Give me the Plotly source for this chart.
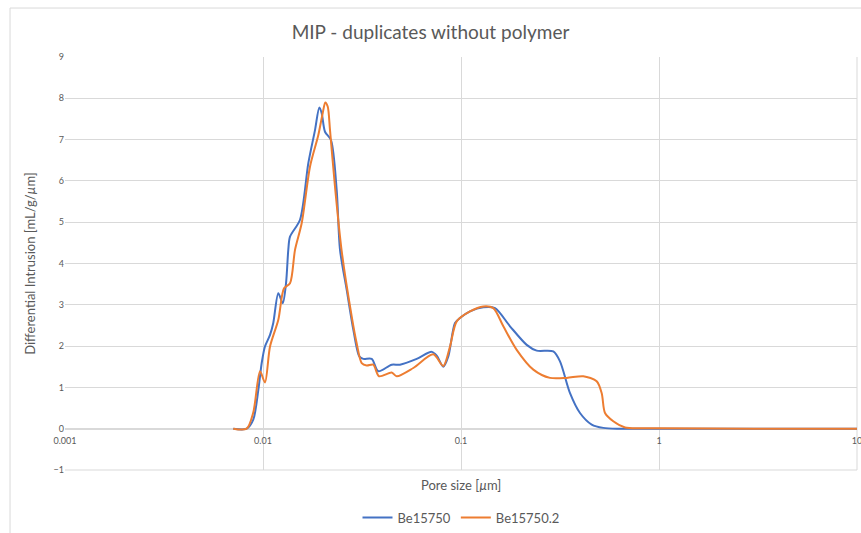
import plotly.graph_objects as go

# Pore size [µm] and differential intrusion [mL/g/µm]
blue_x = [0.00708, 0.00827, 0.00893, 0.00947, 0.00985, 0.01023, 0.01085, 0.01127, 0.01195, 0.01258,
          0.01307, 0.01342, 0.01369, 0.01538, 0.01694, 0.01831, 0.01925, 0.01979, 0.02056, 0.02204,
          0.02356, 0.02449, 0.02647, 0.02858, 0.03065, 0.03211, 0.03540, 0.03822, 0.04467, 0.04918,
          0.05974, 0.07112, 0.07541, 0.08140, 0.08628, 0.09326, 0.09883, 0.1110, 0.1296, 0.1485,
          0.1768, 0.2147, 0.2411, 0.2925, 0.3162, 0.3553, 0.3990, 0.4571, 0.5232, 0.635, 1.0, 3.0, 10.0]
blue_y = [0.0, 0.0, 0.22, 0.94, 1.59, 1.99, 2.27, 2.56, 3.28, 3.04,
          3.52, 4.33, 4.65, 5.06, 6.43, 7.23, 7.78, 7.64, 7.19, 6.99,
          5.78, 4.33, 3.36, 2.40, 1.75, 1.69, 1.69, 1.39, 1.55, 1.55,
          1.69, 1.86, 1.77, 1.50, 1.75, 2.56, 2.68, 2.84, 2.94, 2.92,
          2.48, 2.03, 1.89, 1.87, 1.63, 0.86, 0.38, 0.10, 0.02, 0.0, 0.0, 0.0, 0.0]

orange_x = [0.00708, 0.00827, 0.00893, 0.00966, 0.01023, 0.01085, 0.01195, 0.01277, 0.01369, 0.01451,
            0.01569, 0.01728, 0.01903, 0.02002, 0.02064, 0.02122, 0.02180, 0.02310, 0.02497, 0.02805,
            0.02972, 0.03151, 0.03339, 0.03607, 0.03854, 0.04467, 0.04734, 0.05742, 0.07245, 0.08140,
            0.08799, 0.09513, 0.1110, 0.1296, 0.1456, 0.1636, 0.1911, 0.2319, 0.2814, 0.3419,
            0.4147, 0.4845, 0.5137, 0.5338, 0.5877, 0.6735, 0.80, 1.0, 3.0, 10.0]
orange_y = [0.0, 0.0, 0.39, 1.39, 1.12, 1.99, 2.64, 3.40, 3.52, 4.33,
            4.98, 6.35, 7.11, 7.64, 7.90, 7.80, 7.23, 5.86, 4.30, 2.72,
            2.07, 1.59, 1.53, 1.55, 1.27, 1.36, 1.27, 1.47, 1.80, 1.52,
            1.99, 2.60, 2.84, 2.96, 2.92, 2.48, 1.91, 1.43, 1.23, 1.23,
            1.27, 1.15, 0.86, 0.38, 0.18, 0.03, 0.01, 0.01, 0.0, 0.0]

x_tickvals = [0.001, 0.01, 0.1, 1, 10]
x_ticktext = ["0.001", "0.01", "0.1", "1", "10"]
y_tickvals = [-1, 0, 1, 2, 3, 4, 5, 6, 7, 8, 9]

FONT = "Lato, Liberation Sans, sans-serif"
GREY = "#595959"
GRID = "#d9d9d9"

fig = go.Figure()
fig.add_trace(go.Scatter(x=blue_x, y=blue_y, mode="lines", name="Be15750",
                         line=dict(color="#4472C4", width=2, shape="spline", smoothing=0.8)))
fig.add_trace(go.Scatter(x=orange_x, y=orange_y, mode="lines", name="Be15750.2",
                         line=dict(color="#ED7D31", width=2, shape="spline", smoothing=0.8)))

fig.update_layout(
    width=861, height=533,
    margin=dict(l=65, r=4, t=57, b=63, autoexpand=False),
    paper_bgcolor="white", plot_bgcolor="white",
    font=dict(family=FONT, color=GREY, size=10),
    title=dict(text="MIP - duplicates without polymer", x=0.5, xanchor="center",
               y=0.94, yanchor="middle", font=dict(size=19, color=GREY, family=FONT)),
    legend=dict(orientation="h", x=0.5, xanchor="center", y=-0.115, yanchor="middle",
                font=dict(size=13, color=GREY, family=FONT), traceorder="normal"),
    showlegend=True,
)
fig.update_xaxes(type="log", range=[-3, 1], tickvals=x_tickvals, ticktext=x_ticktext,
                 showgrid=True, gridcolor=GRID, gridwidth=1,
                 anchor="free", position=0.1, showline=False, zeroline=False,
                 ticks="", ticklabelstandoff=5, ticklabeloverflow="allow",
                 tickfont=dict(size=9, color=GREY))
fig.update_yaxes(range=[-1, 9], tickvals=y_tickvals, showgrid=True, gridcolor=GRID, gridwidth=1,
                 zeroline=True, zerolinecolor=GRID, zerolinewidth=1.5,
                 showline=False, ticks="", tickfont=dict(size=9, color=GREY),
                 title=dict(text="Differential Intrusion [mL/g/<i>µ</i>m]",
                            font=dict(size=13, color=GREY), standoff=14))

# x-axis title placed below plot area (axis labels sit at y=0 as in the original)
fig.add_annotation(text="Pore size [<i>µ</i>m]", xref="paper", yref="paper", x=0.5, y=-0.012,
                   xanchor="center", yanchor="top", showarrow=False,
                   font=dict(size=13, color=GREY, family=FONT))

# outer chart frame
fig.add_shape(type="rect", xref="paper", yref="paper", x0=-0.0694, x1=1.02, y0=-0.2, y1=1.1186,
              line=dict(color=GRID, width=1), fillcolor="rgba(0,0,0,0)", layer="below")
# plot area bottom edge at y=-1 and right edge at x=10
fig.add_shape(type="line", xref="paper", yref="paper", x0=0, x1=1, y0=0, y1=0,
              line=dict(color=GRID, width=1), layer="below")
fig.add_shape(type="line", xref="paper", yref="paper", x0=1, x1=1, y0=0, y1=1,
              line=dict(color=GRID, width=1), layer="below")

fig.write_html("out.html")
